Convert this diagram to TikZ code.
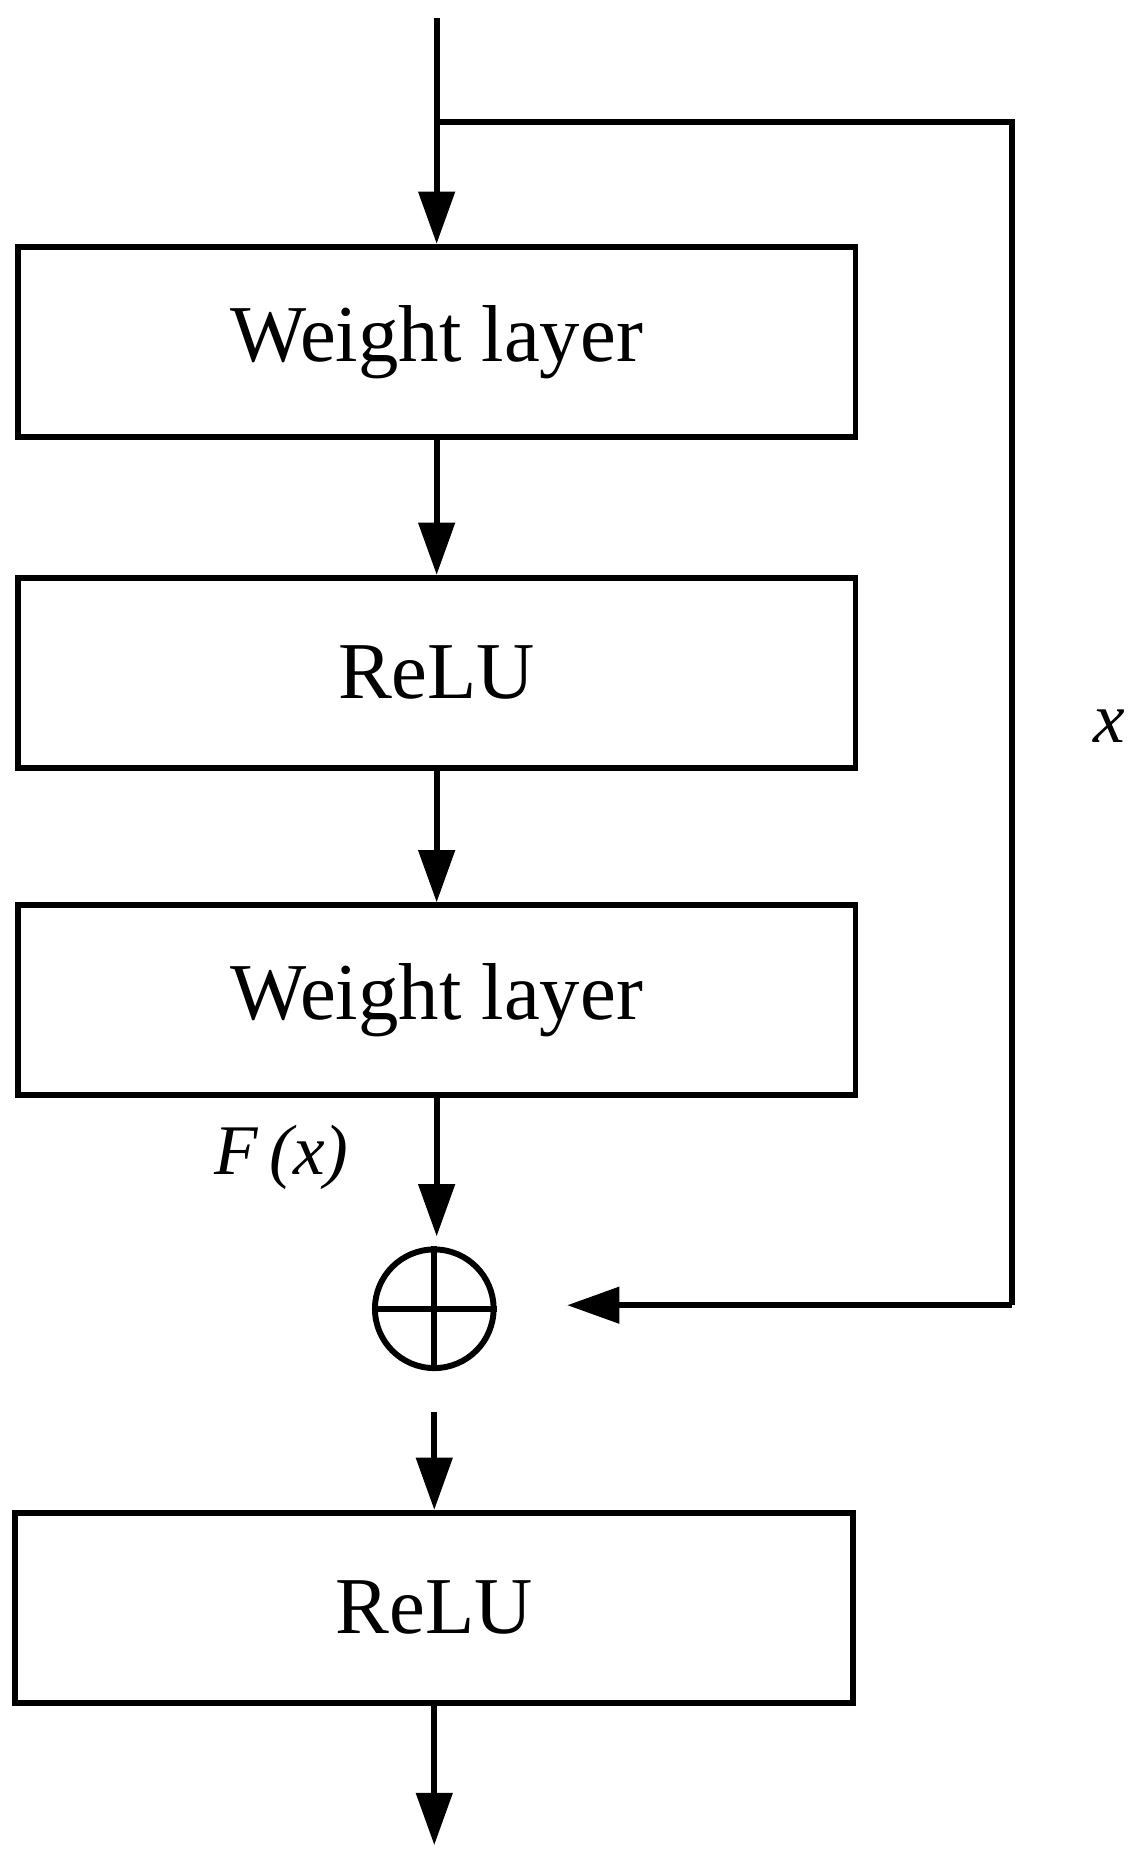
\documentclass[tikz,border=0pt]{standalone}
\usepackage{fontspec}
\setmainfont{Liberation Serif}
\usetikzlibrary{arrows.meta}
\begin{document}
\begin{tikzpicture}[x=1pt,y=-1pt,line width=5pt,
  box/.style={draw,minimum width=706pt,minimum height=160pt,inner sep=0pt,font=\fontsize{68}{80}\selectfont},
  arr/.style={-{Triangle[length=44pt,width=30pt]}},
  lbl/.style={font=\fontsize{60}{70}\selectfont\itshape}]
\useasboundingbox (0,0) rectangle (960,1560);
\node[box] (b1) at (368,288) {Weight layer};
\node[box] (b2) at (368,567) {ReLU};
\node[box] (b3) at (368,843) {Weight layer};
\node[draw,circle,minimum size=100pt,inner sep=0pt] (s) at (366,1103) {};
\draw (s.north) -- (s.south) (s.west) -- (s.east);
\node[box] (b4) at (366,1355) {ReLU};
\coordinate (in) at (368,15);
\coordinate (br) at (368,103);
\coordinate (c1) at (853,103);
\coordinate (c2) at (853,1100);
\coordinate (t1) at (478,1100);
\coordinate (e1) at (368,1042);
\coordinate (o1) at (366,1190);
\coordinate (out) at (366,1555);
\draw[arr] (in) -- (b1.north);
\draw (br) -- (c1) -- (c2);
\draw[arr] (c2) -- (t1);
\draw[arr] (b1.south) -- (b2.north);
\draw[arr] (b2.south) -- (b3.north);
\draw[arr] (b3.south) -- (e1);
\draw[arr] (o1) -- (b4.north);
\draw[arr] (b4.south) -- (out);
\node[lbl] (fx) at (237,975) {F\,(x)};
\node[lbl] (xl) at (935,612) {x};
\end{tikzpicture}
\end{document}
